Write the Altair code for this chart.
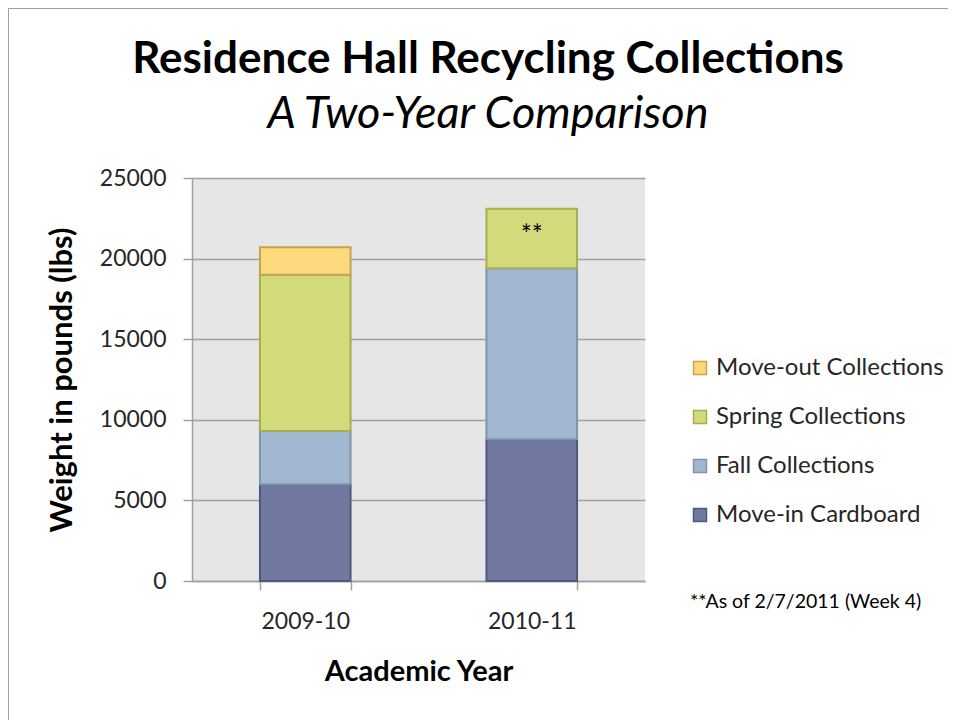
import altair as alt
import pandas as pd

years = ["2009-10", "2010-11"]
categories = ["Move-in Cardboard", "Fall Collections", "Spring Collections", "Move-out Collections"]
move_in = [6000, 8800]
fall = [3300, 10600]
spring = [9700, 3700]
move_out = [1700, 0]
y_ticks = [0, 5000, 10000, 15000, 20000, 25000]
note_year = ["2010-11"]
note_value = [21400]
note_text = ["**"]
footnote = "**As of 2/7/2011 (Week 4)"
title_text = "Residence Hall Recycling Collections"
subtitle_text = "A Two-Year Comparison"

fills = {"Move-out Collections": "#FCD97C", "Spring Collections": "#D3DA7B",
         "Fall Collections": "#A2B8D0", "Move-in Cardboard": "#7179A0"}
strokes = {"Move-out Collections": "#C5A34F", "Spring Collections": "#A6AE55",
           "Fall Collections": "#7F95AE", "Move-in Cardboard": "#4F5880"}
legend_order = ["Move-out Collections", "Spring Collections", "Fall Collections", "Move-in Cardboard"]

rows = []
series = [move_in, fall, spring, move_out]
for ci, (cat, vals) in enumerate(zip(categories, series)):
    for y, v in zip(years, vals):
        if v > 0:
            rows.append({"year": y, "category": cat, "value": v, "idx": ci})
df = pd.DataFrame(rows)
notes = pd.DataFrame({"year": note_year, "value": note_value, "text": note_text})

FONT = "Lato"

xscale = alt.Scale(domain=years, paddingInner=0.6, paddingOuter=0.3)
yscale = alt.Scale(domain=[0, 25000], nice=False)

bars = alt.Chart(df).mark_bar(strokeWidth=2).encode(
    x=alt.X("year:N", scale=xscale, title="Academic Year",
            axis=alt.Axis(labelAngle=0, tickBand="extent", tickSize=9, labelPadding=20,
                          titlePadding=24, domainColor="#A0A0A0", tickColor="#A0A0A0",
                          domainWidth=1.5, tickWidth=1.5)),
    y=alt.Y("value:Q", stack="zero", scale=yscale, title="Weight in pounds (lbs)",
            axis=alt.Axis(values=y_ticks, format="d", tickSize=9, labelPadding=17, titlePadding=21,
                          domainColor="#A0A0A0", tickColor="#A0A0A0",
                          domainWidth=1.5, tickWidth=1.5, gridColor="#A0A0A0", gridWidth=1.5)),
    fill=alt.Fill("category:N", scale=alt.Scale(domain=legend_order, range=[fills[c] for c in legend_order]),
                  title=None),
    stroke=alt.Stroke("category:N", scale=alt.Scale(domain=legend_order, range=[strokes[c] for c in legend_order]),
                      title=None),
    order=alt.Order("idx:Q", sort="ascending"),
)

stars = alt.Chart(notes).mark_text(font=FONT, fontSize=26, color="#000000").encode(
    x=alt.X("year:N", scale=xscale),
    y=alt.Y("value:Q", scale=yscale),
    text="text:N",
)

foot = alt.Chart(pd.DataFrame({"t": [footnote]})).mark_text(
    font=FONT, fontSize=19.5, align="left", baseline="middle", color="#000000"
).encode(x=alt.value(498), y=alt.value(424), text="t:N")

title = alt.Chart(pd.DataFrame({"t": [title_text]})).mark_text(
    font=FONT, fontSize=44, fontWeight="bold", align="center", baseline="alphabetic", color="#000000"
).encode(x=alt.value(296), y=alt.value(-105), text="t:N")

subtitle = alt.Chart(pd.DataFrame({"t": [subtitle_text]})).mark_text(
    font=FONT, fontSize=45, fontStyle="italic", align="center", baseline="alphabetic", color="#000000"
).encode(x=alt.value(296), y=alt.value(-50), text="t:N")

border = alt.Chart(pd.DataFrame({"t": [0]})).mark_rect(
    fill=None, stroke="#A0A0A0", strokeWidth=2
).encode(x=alt.value(-184), x2=alt.value(757), y=alt.value(-170), y2=alt.value(560))

chart = alt.layer(border, bars, stars, foot, title, subtitle).properties(
    width=453, height=403,
    autosize=alt.AutoSizeParams(type="none"),
    padding={"left": 184, "top": 170, "right": 303, "bottom": 139},
).configure_view(fill="#E6E6E6", strokeWidth=0).configure_axis(
    labelFont=FONT, labelFontSize=23, labelColor="#262626",
    titleFont=FONT, titleFontSize=29, titleFontWeight="bold", titleColor="#000000",
).configure_axisY(titleFontSize=31).configure_legend(
    orient="none", legendX=496, legendY=178, symbolType="square", symbolSize=169,
    labelFont=FONT, labelFontSize=24, labelColor="#262626", rowPadding=25, labelOffset=4,
    symbolStrokeWidth=1.5, labelLimit=400,
)

chart.save("out.html", embed_options={"renderer": "svg", "actions": False})
